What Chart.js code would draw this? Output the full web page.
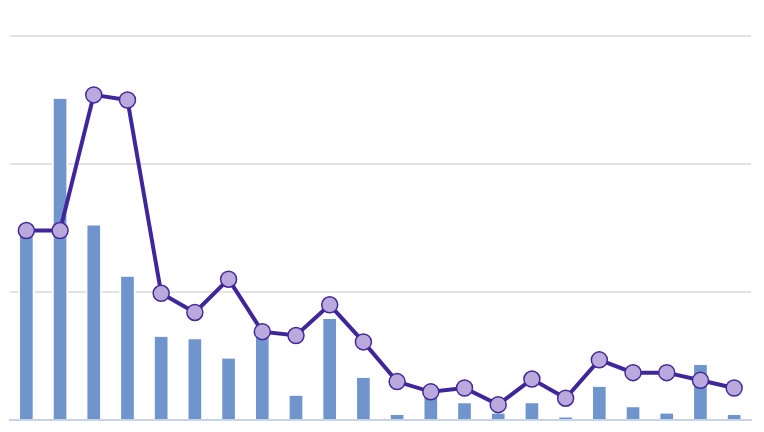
<!DOCTYPE html>
<html>
<head>
<meta charset="utf-8">
<script src="https://cdn.jsdelivr.net/npm/chart.js@4/dist/chart.umd.min.js"></script>
<style>
  body { margin: 0; background: #fff; }
  #wrap { width: 764px; height: 432px; }
</style>
</head>
<body>
<div id="wrap"><canvas id="canva"></canvas></div>
<script>
// 22 categories, no labels shown on the picture
var categories = ['1','2','3','4','5','6','7','8','9','10','11','12','13','14','15','16','17','18','19','20','21','22'];
var barValues = [145, 251, 152, 112, 65, 63, 48, 65, 19, 79, 33, 4, 19, 13, 5, 13, 2, 26, 10, 5, 43, 4];
var lineValues = [148, 148, 254, 250, 99, 84, 110, 69, 66, 90, 61, 30, 22, 25, 12, 32, 17, 47, 37, 37, 31, 25];
var yTicks = [0, 100, 200, 300];

const ctx = document.getElementById('canva');

var canva = new Chart(ctx, {
    data: {
        labels: categories,
        datasets: [{
            type: 'line',
            data: lineValues,
            order: 0,
            borderColor: '#3f279b',
            borderWidth: 4,
            pointRadius: 8,
            pointBackgroundColor: '#b9a9dc',
            pointBorderColor: '#44299a',
            pointBorderWidth: 1.5,
            tension: 0
        }, {
            type: 'bar',
            data: barValues,
            order: 1,
            backgroundColor: '#7094cc',
            borderColor: '#ffffff',
            borderWidth: {left: 2, right: 2, top: 0, bottom: 0},
            borderSkipped: false,
            barThickness: 16
        }]
    },
    options: {
        responsive: true,
        maintainAspectRatio: false,
        animation: false,
        layout: {
            padding: {left: 9, right: 13, top: 36, bottom: 12}
        },
        plugins: {
            legend: {display: false},
            tooltip: {enabled: false}
        },
        scales: {
            x: {
                offset: true,
                ticks: {display: false},
                grid: {display: false, drawTicks: false},
                border: {display: true, color: '#c9d3e6', width: 2}
            },
            y: {
                min: yTicks[0],
                max: yTicks[yTicks.length - 1],
                ticks: {display: false, stepSize: 100},
                grid: {
                    drawTicks: false,
                    lineWidth: 2,
                    color: function(c) {
                        return c.tick && c.tick.value === 0 ? 'rgba(0,0,0,0)' : '#e3e3e3';
                    }
                },
                border: {display: false}
            }
        }
    }
});
</script>
</body>
</html>
